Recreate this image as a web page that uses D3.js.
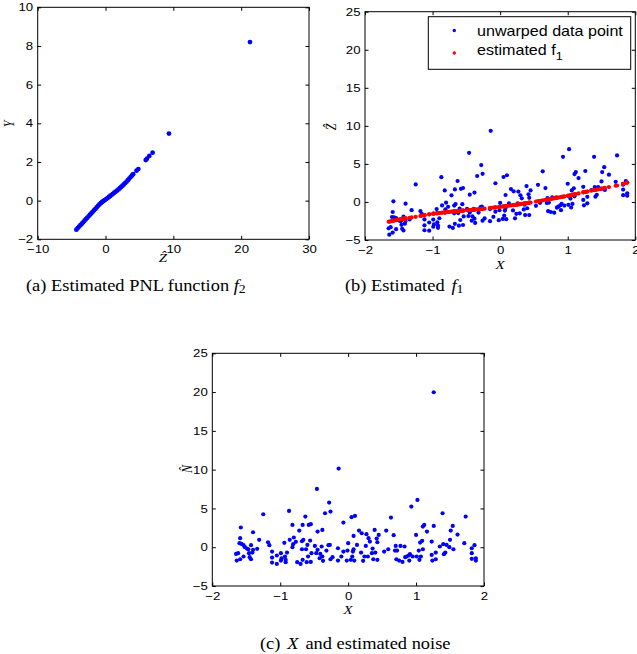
<!DOCTYPE html>
<html>
<head>
<meta charset="utf-8">
<script src="https://cdn.jsdelivr.net/npm/d3@7"></script>
<style>
  body { margin: 0; background: #fff; }
</style>
</head>
<body>
<div id="chart"></div>
<script>
// PNL 估计结果的三个子图

// 样本的 X 值（(b)、(c) 两图共用）
const sampleX = [
  -1.65,-1.62,-1.64,-1.59,-1.58,-1.59,-1.60,-1.57,-1.54,-1.54,
  -1.52,-1.49,-1.47,-1.46,-1.45,-1.43,-1.43,-1.41,-1.40,-1.40,
  -1.34,-1.31,-1.25,-1.18,-1.16,-1.12,-1.12,-1.12,-1.05,-1.05,
  -0.99,-0.99,-0.98,-0.94,-0.93,-0.92,-0.92,-0.90,-0.87,-0.86,
  -0.82,-0.82,-0.81,-0.80,-0.77,-0.75,-0.72,-0.70,-0.68,-0.67,
  -0.68,-0.67,-0.66,-0.63,-0.62,-0.61,-0.60,-0.59,-0.58,-0.56,
  -0.55,-0.55,-0.54,-0.49,-0.47,-0.46,-0.45,-0.45,-0.42,-0.41,
  -0.39,-0.38,-0.38,-0.37,-0.34,-0.32,-0.29,-0.28,-0.27,-0.26,
  -0.26,-0.23,-0.15,-0.15,-0.14,-0.10,-0.07,-0.07,-0.02,-0.01,
  0.00,0.04,0.05,0.06,0.07,0.08,0.08,0.09,0.10,0.13,
  0.16,0.19,0.20,0.22,0.24,0.26,0.27,0.29,0.30,0.32,
  0.35,0.36,0.37,0.39,0.40,0.42,0.43,0.43,0.45,0.53,
  0.56,0.59,0.63,0.67,0.69,0.70,0.71,0.72,0.75,0.77,
  0.80,0.83,0.84,0.86,0.89,0.90,0.91,0.93,0.95,1.00,
  1.01,1.02,1.04,1.05,1.06,1.07,1.09,1.10,1.10,1.12,
  1.16,1.23,1.23,1.24,1.26,1.26,1.29,1.29,1.35,1.39,
  1.40,1.41,1.43,1.45,1.49,1.50,1.51,1.54,1.55,1.61,
  1.71,1.73,1.82,1.82,1.82,1.86,1.88,1.88
];

// (c) 估计的噪声 N^
const noiseHat = [
  -0.86,-0.77,-1.72,-1.55,2.54,1.16,0.52,0.43,0.26,-1.20,
  0.00,-0.17,-0.26,-0.77,-1.29,0.26,-1.55,-0.69,1.93,-0.34,
  -0.21,0.95,4.25,0.64,0.26,-0.56,-1.33,-1.98,-1.07,-2.15,
  -0.77,-1.72,-1.42,0.56,-1.20,-1.93,-1.63,-0.69,4.68,0.95,
  2.88,0.00,0.39,1.25,0.69,-1.93,2.15,-2.15,0.77,2.88,
  -0.26,-1.63,0.95,3.95,-0.26,-1.93,0.30,-1.20,2.88,0.86,
  2.97,-1.89,-0.77,0.17,-0.77,7.52,2.02,-0.34,-1.42,-0.86,
  0.09,2.23,-1.20,-1.76,4.38,-0.43,0.26,5.76,0.30,4.60,
  -1.55,-1.29,-0.13,-1.72,10.14,-1.20,3.18,-0.56,-1.72,-0.43,
  0.52,-1.63,3.87,-1.20,-0.56,-0.26,1.46,-1.72,4.04,0.30,
  2.15,-0.69,1.80,-1.76,-1.20,0.17,1.68,-1.20,1.16,0.73,
  -0.77,-0.17,-1.55,2.23,-0.69,1.12,-1.63,0.64,1.59,-0.56,
  2.15,-0.26,3.82,1.55,-0.43,0.17,-1.55,-0.43,-1.72,0.17,
  -1.89,0.09,-1.29,-1.20,-1.07,-1.72,-0.90,5.24,-1.20,1.59,
  -1.20,6.10,-0.43,-1.63,0.60,-1.20,0.82,-0.26,2.66,2.88,
  2.02,0.73,-0.99,-1.72,19.98,2.75,-0.69,-1.55,0.09,4.38,
  0.39,-0.90,-0.69,0.30,0.00,0.95,2.15,2.75,-0.26,1.63,
  0.52,3.95,-0.13,-0.77,-1.50,0.26,-1.72,-1.42
];

// (b) 估计的 f1(X)（红点）
const f1Hat = [
  -2.60,-2.54,-2.58,-2.48,-2.46,-2.48,-2.50,-2.44,-2.38,-2.38,
  -2.34,-2.29,-2.26,-2.24,-2.23,-2.20,-2.20,-2.17,-2.16,-2.16,
  -2.08,-2.03,-1.95,-1.84,-1.81,-1.74,-1.74,-1.74,-1.63,-1.63,
  -1.54,-1.54,-1.53,-1.49,-1.48,-1.47,-1.47,-1.45,-1.42,-1.41,
  -1.37,-1.37,-1.36,-1.35,-1.32,-1.30,-1.28,-1.26,-1.24,-1.24,
  -1.24,-1.24,-1.23,-1.20,-1.20,-1.19,-1.18,-1.17,-1.16,-1.15,
  -1.14,-1.14,-1.13,-1.09,-1.08,-1.07,-1.06,-1.06,-1.04,-1.03,
  -1.01,-1.00,-1.00,-1.00,-0.97,-0.96,-0.93,-0.92,-0.92,-0.91,
  -0.91,-0.88,-0.80,-0.80,-0.79,-0.75,-0.72,-0.72,-0.67,-0.66,
  -0.65,-0.60,-0.59,-0.58,-0.57,-0.55,-0.55,-0.54,-0.53,-0.49,
  -0.46,-0.42,-0.41,-0.39,-0.36,-0.34,-0.32,-0.29,-0.28,-0.25,
  -0.21,-0.20,-0.18,-0.15,-0.14,-0.11,-0.10,-0.10,-0.07,0.05,
  0.10,0.14,0.21,0.27,0.30,0.32,0.34,0.35,0.40,0.43,
  0.48,0.53,0.54,0.58,0.62,0.64,0.66,0.69,0.72,0.80,
  0.82,0.84,0.88,0.90,0.92,0.94,0.98,1.00,1.00,1.04,
  1.12,1.26,1.26,1.28,1.32,1.32,1.37,1.37,1.48,1.55,
  1.57,1.59,1.62,1.66,1.73,1.75,1.77,1.82,1.84,1.95,
  2.13,2.16,2.39,2.39,2.39,2.49,2.55,2.55
];

// (b) 反扭曲后的数据点 Z^（蓝点）
const zHat = [
  -3.46,-3.31,-4.30,-4.03,0.08,-1.32,-1.98,-2.01,-2.12,-3.58,
  -2.34,-2.46,-2.52,-3.01,-3.52,-1.94,-3.75,-2.86,-0.23,-2.50,
  -2.29,-1.08,2.30,-1.20,-1.55,-2.30,-3.07,-3.72,-2.70,-3.78,
  -2.31,-3.26,-2.95,-0.93,-2.68,-3.40,-3.10,-2.14,3.26,-0.46,
  1.51,-1.37,-0.97,-0.10,-0.63,-3.23,0.87,-3.41,-0.47,1.64,
  -1.50,-2.87,-0.28,2.75,-1.46,-3.12,-0.88,-2.37,1.72,-0.29,
  1.83,-3.03,-1.90,-0.92,-1.85,6.45,0.96,-1.40,-2.46,-1.89,
  -0.92,1.23,-2.20,-2.76,3.41,-1.39,-0.67,4.84,-0.62,3.69,
  -2.46,-2.17,-0.93,-2.52,9.35,-1.95,2.46,-1.28,-2.39,-1.09,
  -0.13,-2.23,3.28,-1.78,-1.13,-0.81,0.91,-2.26,3.51,-0.19,
  1.69,-1.11,1.39,-2.15,-1.56,-0.17,1.36,-1.49,0.88,0.48,
  -0.98,-0.37,-1.73,2.08,-0.83,1.01,-1.73,0.54,1.52,-0.51,
  2.25,-0.12,4.03,1.82,-0.13,0.49,-1.21,-0.08,-1.32,0.60,
  -1.41,0.62,-0.75,-0.62,-0.45,-1.08,-0.24,5.93,-0.48,2.39,
  -0.38,6.94,0.45,-0.73,1.52,-0.26,1.80,0.74,3.66,3.92,
  3.14,1.99,0.27,-0.44,21.30,4.07,0.68,-0.18,1.57,5.93,
  1.96,0.69,0.93,1.96,1.73,2.70,3.92,4.57,1.58,3.58,
  2.65,6.11,2.26,1.62,0.89,2.75,0.83,1.13
];

// (a) 估计的 PNL 函数 f2：(Z^, Y)
const curveZ = [
  -4.3,-4.1,-3.9,-3.7,-3.5,-3.3,-3.1,-2.9,-2.7,-2.5,-2.3,-2.1,-1.9,-1.7,-1.5,
  -1.3,-1.1,-0.9,-0.7,-0.5,-0.3,-0.1,0.1,0.3,0.5,0.7,0.9,1.1,1.3,1.5,1.7,1.9,
  2.1,2.3,2.5,2.7,2.9,3.1,3.3,3.5,3.7,3.9,4.07,4.57,4.84,5.93,6.11,6.45,6.94,
  9.35,21.30
];
const curveY = [
  -1.50,-1.42,-1.34,-1.27,-1.19,-1.12,-1.04,-0.96,-0.89,-0.81,-0.73,-0.66,-0.58,-0.50,-0.43,
  -0.35,-0.27,-0.20,-0.13,-0.07,-0.02,0.03,0.08,0.13,0.19,0.24,0.30,0.35,0.41,0.47,0.52,0.58,
  0.64,0.71,0.77,0.84,0.91,0.98,1.06,1.14,1.22,1.30,1.37,1.55,1.63,2.10,2.17,2.31,2.48,
  3.47,8.20
];

// 刻度
const xTicksA = [-10, 0, 10, 20, 30];
const yTicksA = [-2, 0, 2, 4, 6, 8, 10];
const xTicksBC = [-2, -1, 0, 1, 2];
const yTicksBC = [-5, 0, 5, 10, 15, 20, 25];

const legendLabels = ['unwarped data point', 'estimated f'];

// 原图横向略有拉伸，文字也照此拉宽
const SX = 1.15;
const blue = '#0000ff';
const red = '#ff0000';
const sansFont = '"Liberation Sans", Arial, Helvetica, sans-serif';
const serifFont = '"Liberation Serif", "Times New Roman", "DejaVu Serif", serif';

const svg = d3.select('#chart')
  .append('svg')
  .attr('width', 637)
  .attr('height', 654)
  .style('background', '#fff');

// 画一个子图的框、刻度和坐标轴标签，返回比例尺
function drawFrame(p) {
  const x = d3.scaleLinear().domain(p.xDomain).range([p.left, p.right]);
  const y = d3.scaleLinear().domain(p.yDomain).range([p.bottom, p.top]);
  const g = svg.append('g');
  const fmt = d3.format('d');

  const axes = [
    { axis: d3.axisBottom(x).tickValues(p.xTicks), tr: `translate(0,${p.bottom})`, labels: true, side: 'bottom' },
    { axis: d3.axisTop(x).tickValues(p.xTicks), tr: `translate(0,${p.top})`, labels: false },
    { axis: d3.axisLeft(y).tickValues(p.yTicks), tr: `translate(${p.left},0)`, labels: true, side: 'left' },
    { axis: d3.axisRight(y).tickValues(p.yTicks), tr: `translate(${p.right},0)`, labels: false }
  ];

  axes.forEach(a => {
    a.axis.tickSizeInner(-3.5).tickSizeOuter(0)
      .tickPadding(a.side === 'left' ? 4.5 / SX : 6)
      .tickFormat(a.labels ? fmt : () => '');
    const ag = g.append('g')
      .attr('transform', a.tr)
      .call(a.axis)
      .attr('font-family', sansFont)
      .attr('font-size', 11.5);
    ag.select('.domain').remove();
    ag.selectAll('text').attr('fill', '#000').attr('transform', `scale(${SX},1)`);
  });

  g.append('rect')
    .attr('x', p.left)
    .attr('y', p.top)
    .attr('width', p.right - p.left)
    .attr('height', p.bottom - p.top)
    .attr('fill', 'none')
    .attr('stroke', '#000')
    .attr('stroke-width', 1);

  // x 轴标签
  svg.append('text')
    .attr('transform', `translate(${p.xLabelAt[0]},${p.xLabelAt[1]}) scale(${SX},1)`)
    .attr('text-anchor', 'middle')
    .attr('font-family', serifFont)
    .attr('font-style', 'italic')
    .attr('font-size', 13)
    .text(p.xLabel);

  // y 轴标签（竖排）
  svg.append('text')
    .attr('transform', `translate(${p.yLabelAt[0]},${p.yLabelAt[1]}) scale(${SX},1) rotate(-90)`)
    .attr('text-anchor', 'middle')
    .attr('font-family', serifFont)
    .attr('font-style', 'italic')
    .attr('font-size', 12)
    .text(p.yLabel);

  return { x, y };
}

function drawDots(sc, xs, ys, color, r) {
  svg.append('g')
    .selectAll('circle')
    .data(xs)
    .enter()
    .append('circle')
    .attr('cx', d => sc.x(d))
    .attr('cy', (d, i) => sc.y(ys[i]))
    .attr('r', r)
    .attr('fill', color);
}

// (a)
const scA = drawFrame({
  left: 37.7, right: 309, top: 7.3, bottom: 239.3,
  xDomain: [-10, 30], yDomain: [-2, 10],
  xTicks: xTicksA, yTicks: yTicksA,
  xLabel: '\u1E90', xLabelAt: [163, 262],
  yLabel: 'Y', yLabelAt: [14, 124]
});
drawDots(scA, curveZ, curveY, blue, 2.4);

// (b)
const scB = drawFrame({
  left: 365, right: 635.3, top: 11.7, bottom: 240,
  xDomain: [-2, 2], yDomain: [-5, 25],
  xTicks: xTicksBC, yTicks: yTicksBC,
  xLabel: 'X', xLabelAt: [500, 269],
  yLabel: '\u1E90', yLabelAt: [336, 127]
});
drawDots(scB, sampleX, zHat, blue, 2.1);
drawDots(scB, sampleX, f1Hat, red, 2.1);

// 图例
const lg = svg.append('g');
lg.append('rect')
  .attr('x', 428.3).attr('y', 16.7)
  .attr('width', 202.4).attr('height', 52.6)
  .attr('fill', '#fff').attr('stroke', '#000');
[blue, red].forEach((c, i) => {
  lg.append('circle')
    .attr('cx', 454.3)
    .attr('cy', i === 0 ? 30.5 : 53)
    .attr('r', 1.7)
    .attr('fill', c);
});
lg.append('text')
  .attr('transform', `translate(477,36) scale(${SX},1)`)
  .attr('font-family', sansFont).attr('font-size', 14)
  .text(legendLabels[0]);
const lt2 = lg.append('text')
  .attr('transform', `translate(477,55) scale(${SX},1)`)
  .attr('font-family', sansFont).attr('font-size', 14);
lt2.append('tspan').text(legendLabels[1]);
lt2.append('tspan').attr('dy', 5).attr('font-size', 11).text('1');

// (c)
const scC = drawFrame({
  left: 212.3, right: 484, top: 353.3, bottom: 586,
  xDomain: [-2, 2], yDomain: [-5, 25],
  xTicks: xTicksBC, yTicks: yTicksBC,
  xLabel: 'X', xLabelAt: [348, 614],
  yLabel: 'N\u0302', yLabelAt: [191.5, 469]
});
drawDots(scC, sampleX, noiseHat, blue, 2.1);

// 子图标题
function caption(x, y, parts) {
  const t = svg.append('text')
    .attr('transform', `translate(${x},${y}) scale(${SX},1)`)
    .attr('font-family', serifFont)
    .attr('font-size', 16);
  parts.forEach(pt => {
    const s = t.append('tspan').text(pt.t);
    if (pt.i) s.attr('font-style', 'italic');
    if (pt.sub) s.attr('font-size', 12).attr('dy', 2.5);
    if (pt.dx) s.attr('dx', pt.dx);
  });
}
caption(26, 290.5, [{ t: '(a) Estimated PNL function ' }, { t: 'f', i: true }, { t: '2', sub: true }]);
caption(345, 290.5, [{ t: '(b) Estimated ' }, { t: 'f', i: true, dx: 2 }, { t: '1', sub: true }]);
caption(260, 649.3, [{ t: '(c) ' }, { t: 'X', i: true, dx: 2 }, { t: ' and estimated noise', dx: 2 }]);
</script>
</body>
</html>
